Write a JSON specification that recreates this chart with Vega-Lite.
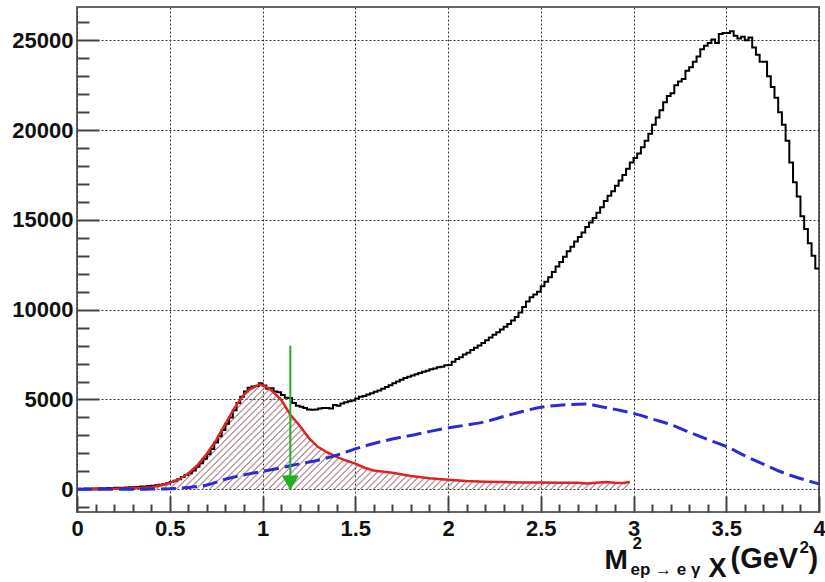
{
  "$schema": "https://vega.github.io/schema/vega-lite/v6.json",
  "width": 742,
  "height": 505,
  "autosize": "none",
  "padding": {"left": 77, "top": 7, "right": 6, "bottom": 70},
  "background": "white",
  "config": {
    "view": {"stroke": "#666", "strokeWidth": 2},
    "axis": {"labelFont": "Liberation Sans", "titleFont": "Liberation Sans", "labelFontWeight": "bold", "titleFontWeight": "bold", "labelColor": "#111", "titleColor": "#111"}
  },
  "datasets": {
    "total": [
      {"m2": 0.00, "count": 30}, {"m2": 0.02, "count": 20}, {"m2": 0.04, "count": 40}, {"m2": 0.06, "count": 30},
      {"m2": 0.08, "count": 50}, {"m2": 0.10, "count": 40}, {"m2": 0.12, "count": 60}, {"m2": 0.14, "count": 50},
      {"m2": 0.16, "count": 70}, {"m2": 0.18, "count": 60}, {"m2": 0.20, "count": 80}, {"m2": 0.22, "count": 90},
      {"m2": 0.24, "count": 80}, {"m2": 0.26, "count": 100}, {"m2": 0.28, "count": 110}, {"m2": 0.30, "count": 120},
      {"m2": 0.32, "count": 130}, {"m2": 0.34, "count": 150}, {"m2": 0.36, "count": 160}, {"m2": 0.38, "count": 180},
      {"m2": 0.40, "count": 200}, {"m2": 0.42, "count": 220}, {"m2": 0.44, "count": 250}, {"m2": 0.46, "count": 280},
      {"m2": 0.48, "count": 330}, {"m2": 0.50, "count": 400}, {"m2": 0.52, "count": 470}, {"m2": 0.54, "count": 560},
      {"m2": 0.56, "count": 680}, {"m2": 0.58, "count": 800}, {"m2": 0.60, "count": 900}, {"m2": 0.62, "count": 1050},
      {"m2": 0.64, "count": 1250}, {"m2": 0.66, "count": 1450}, {"m2": 0.68, "count": 1700}, {"m2": 0.70, "count": 1950},
      {"m2": 0.72, "count": 2250}, {"m2": 0.74, "count": 2600}, {"m2": 0.76, "count": 2950}, {"m2": 0.78, "count": 3300},
      {"m2": 0.80, "count": 3650}, {"m2": 0.82, "count": 4000}, {"m2": 0.84, "count": 4400}, {"m2": 0.86, "count": 4800},
      {"m2": 0.88, "count": 5150}, {"m2": 0.90, "count": 5450}, {"m2": 0.92, "count": 5650}, {"m2": 0.94, "count": 5720},
      {"m2": 0.96, "count": 5750}, {"m2": 0.98, "count": 5900}, {"m2": 1.00, "count": 5780}, {"m2": 1.02, "count": 5600},
      {"m2": 1.04, "count": 5620}, {"m2": 1.06, "count": 5450}, {"m2": 1.08, "count": 5400}, {"m2": 1.10, "count": 5250},
      {"m2": 1.12, "count": 5100}, {"m2": 1.14, "count": 5080}, {"m2": 1.16, "count": 4800}, {"m2": 1.18, "count": 4650},
      {"m2": 1.20, "count": 4600}, {"m2": 1.22, "count": 4520}, {"m2": 1.24, "count": 4450}, {"m2": 1.26, "count": 4430},
      {"m2": 1.28, "count": 4450}, {"m2": 1.30, "count": 4500}, {"m2": 1.32, "count": 4520}, {"m2": 1.34, "count": 4520},
      {"m2": 1.36, "count": 4500}, {"m2": 1.38, "count": 4700}, {"m2": 1.40, "count": 4650}, {"m2": 1.42, "count": 4780},
      {"m2": 1.44, "count": 4850}, {"m2": 1.46, "count": 4900}, {"m2": 1.48, "count": 4950}, {"m2": 1.50, "count": 5050},
      {"m2": 1.52, "count": 5150}, {"m2": 1.54, "count": 5200}, {"m2": 1.56, "count": 5280}, {"m2": 1.58, "count": 5350},
      {"m2": 1.60, "count": 5430}, {"m2": 1.62, "count": 5500}, {"m2": 1.64, "count": 5600}, {"m2": 1.66, "count": 5700},
      {"m2": 1.68, "count": 5800}, {"m2": 1.70, "count": 5900}, {"m2": 1.72, "count": 6000}, {"m2": 1.74, "count": 6100},
      {"m2": 1.76, "count": 6200}, {"m2": 1.78, "count": 6270}, {"m2": 1.80, "count": 6330}, {"m2": 1.82, "count": 6400},
      {"m2": 1.84, "count": 6480}, {"m2": 1.86, "count": 6550}, {"m2": 1.88, "count": 6600}, {"m2": 1.90, "count": 6680},
      {"m2": 1.92, "count": 6720}, {"m2": 1.94, "count": 6800}, {"m2": 1.96, "count": 6830}, {"m2": 1.98, "count": 6900},
      {"m2": 2.00, "count": 6920}, {"m2": 2.02, "count": 7100}, {"m2": 2.04, "count": 7250}, {"m2": 2.06, "count": 7350},
      {"m2": 2.08, "count": 7500}, {"m2": 2.10, "count": 7600}, {"m2": 2.12, "count": 7750}, {"m2": 2.14, "count": 7880},
      {"m2": 2.16, "count": 8000}, {"m2": 2.18, "count": 8150}, {"m2": 2.20, "count": 8300}, {"m2": 2.22, "count": 8450},
      {"m2": 2.24, "count": 8600}, {"m2": 2.26, "count": 8750}, {"m2": 2.28, "count": 8900}, {"m2": 2.30, "count": 9050},
      {"m2": 2.32, "count": 9200}, {"m2": 2.34, "count": 9400}, {"m2": 2.36, "count": 9600}, {"m2": 2.38, "count": 9850},
      {"m2": 2.40, "count": 10150}, {"m2": 2.42, "count": 10450}, {"m2": 2.44, "count": 10700}, {"m2": 2.46, "count": 10850},
      {"m2": 2.48, "count": 11000}, {"m2": 2.50, "count": 11300}, {"m2": 2.52, "count": 11550}, {"m2": 2.54, "count": 11800},
      {"m2": 2.56, "count": 12100}, {"m2": 2.58, "count": 12400}, {"m2": 2.60, "count": 12650}, {"m2": 2.62, "count": 12950},
      {"m2": 2.64, "count": 13250}, {"m2": 2.66, "count": 13500}, {"m2": 2.68, "count": 13800}, {"m2": 2.70, "count": 14050},
      {"m2": 2.72, "count": 14300}, {"m2": 2.74, "count": 14600}, {"m2": 2.76, "count": 14850}, {"m2": 2.78, "count": 15100},
      {"m2": 2.80, "count": 15400}, {"m2": 2.82, "count": 15700}, {"m2": 2.84, "count": 16050}, {"m2": 2.86, "count": 16350},
      {"m2": 2.88, "count": 16600}, {"m2": 2.90, "count": 16900}, {"m2": 2.92, "count": 17200}, {"m2": 2.94, "count": 17500},
      {"m2": 2.96, "count": 17850}, {"m2": 2.98, "count": 18200}, {"m2": 3.00, "count": 18450}, {"m2": 3.02, "count": 18700},
      {"m2": 3.04, "count": 19050}, {"m2": 3.06, "count": 19400}, {"m2": 3.08, "count": 19800}, {"m2": 3.10, "count": 20300},
      {"m2": 3.12, "count": 20700}, {"m2": 3.14, "count": 21100}, {"m2": 3.16, "count": 21550}, {"m2": 3.18, "count": 21900},
      {"m2": 3.20, "count": 22050}, {"m2": 3.22, "count": 22500}, {"m2": 3.24, "count": 22700}, {"m2": 3.26, "count": 22850},
      {"m2": 3.28, "count": 23300}, {"m2": 3.30, "count": 23500}, {"m2": 3.32, "count": 23800}, {"m2": 3.34, "count": 24100},
      {"m2": 3.36, "count": 24500}, {"m2": 3.38, "count": 24700}, {"m2": 3.40, "count": 24850}, {"m2": 3.42, "count": 25050},
      {"m2": 3.44, "count": 24850}, {"m2": 3.46, "count": 25350}, {"m2": 3.48, "count": 25400}, {"m2": 3.50, "count": 25400},
      {"m2": 3.52, "count": 25500}, {"m2": 3.54, "count": 25250}, {"m2": 3.56, "count": 25100}, {"m2": 3.58, "count": 25200},
      {"m2": 3.60, "count": 25000}, {"m2": 3.62, "count": 25150}, {"m2": 3.64, "count": 24600}, {"m2": 3.66, "count": 24200},
      {"m2": 3.68, "count": 23800}, {"m2": 3.70, "count": 23800}, {"m2": 3.72, "count": 23000}, {"m2": 3.74, "count": 22400},
      {"m2": 3.76, "count": 21800}, {"m2": 3.78, "count": 21000}, {"m2": 3.80, "count": 20300}, {"m2": 3.82, "count": 19400},
      {"m2": 3.84, "count": 18200}, {"m2": 3.86, "count": 17100}, {"m2": 3.88, "count": 16300}, {"m2": 3.90, "count": 15200},
      {"m2": 3.92, "count": 14500}, {"m2": 3.94, "count": 13700}, {"m2": 3.96, "count": 13000}, {"m2": 3.98, "count": 12300},
      {"m2": 4.00, "count": 12300}
    ],
    "signal": [
      {"m2": 0.00, "count": 0}, {"m2": 0.10, "count": 10}, {"m2": 0.20, "count": 30}, {"m2": 0.30, "count": 60},
      {"m2": 0.35, "count": 80}, {"m2": 0.40, "count": 110}, {"m2": 0.45, "count": 210}, {"m2": 0.50, "count": 360},
      {"m2": 0.55, "count": 560}, {"m2": 0.60, "count": 880}, {"m2": 0.65, "count": 1350}, {"m2": 0.70, "count": 1980},
      {"m2": 0.75, "count": 2740}, {"m2": 0.80, "count": 3650}, {"m2": 0.85, "count": 4550}, {"m2": 0.90, "count": 5280},
      {"m2": 0.93, "count": 5550}, {"m2": 0.96, "count": 5720}, {"m2": 0.98, "count": 5830}, {"m2": 1.00, "count": 5800},
      {"m2": 1.03, "count": 5650}, {"m2": 1.06, "count": 5400}, {"m2": 1.10, "count": 5000}, {"m2": 1.15, "count": 4150},
      {"m2": 1.20, "count": 3550}, {"m2": 1.25, "count": 2850}, {"m2": 1.30, "count": 2350}, {"m2": 1.35, "count": 2050},
      {"m2": 1.40, "count": 1800}, {"m2": 1.45, "count": 1600}, {"m2": 1.50, "count": 1430}, {"m2": 1.55, "count": 1200},
      {"m2": 1.60, "count": 1050}, {"m2": 1.70, "count": 920}, {"m2": 1.80, "count": 740}, {"m2": 1.90, "count": 620},
      {"m2": 2.00, "count": 530}, {"m2": 2.10, "count": 460}, {"m2": 2.20, "count": 420}, {"m2": 2.30, "count": 400},
      {"m2": 2.40, "count": 380}, {"m2": 2.50, "count": 380}, {"m2": 2.60, "count": 370}, {"m2": 2.70, "count": 360},
      {"m2": 2.75, "count": 320}, {"m2": 2.80, "count": 370}, {"m2": 2.85, "count": 400}, {"m2": 2.90, "count": 360},
      {"m2": 2.95, "count": 350}, {"m2": 2.98, "count": 420}
    ],
    "background": [
      {"m2": 0.0, "count": 0}, {"m2": 0.1, "count": 0}, {"m2": 0.2, "count": 0}, {"m2": 0.3, "count": 0},
      {"m2": 0.4, "count": 10}, {"m2": 0.5, "count": 30}, {"m2": 0.6, "count": 100}, {"m2": 0.7, "count": 240},
      {"m2": 0.8, "count": 560}, {"m2": 0.9, "count": 800}, {"m2": 1.0, "count": 1000}, {"m2": 1.1, "count": 1200},
      {"m2": 1.2, "count": 1420}, {"m2": 1.3, "count": 1620}, {"m2": 1.4, "count": 1900}, {"m2": 1.5, "count": 2250},
      {"m2": 1.6, "count": 2550}, {"m2": 1.7, "count": 2800}, {"m2": 1.8, "count": 3000}, {"m2": 1.9, "count": 3220},
      {"m2": 2.0, "count": 3420}, {"m2": 2.1, "count": 3580}, {"m2": 2.2, "count": 3760}, {"m2": 2.3, "count": 4050},
      {"m2": 2.4, "count": 4330}, {"m2": 2.5, "count": 4570}, {"m2": 2.6, "count": 4680}, {"m2": 2.7, "count": 4740},
      {"m2": 2.75, "count": 4750}, {"m2": 2.8, "count": 4650}, {"m2": 2.9, "count": 4450}, {"m2": 3.0, "count": 4230},
      {"m2": 3.1, "count": 3920}, {"m2": 3.2, "count": 3600}, {"m2": 3.3, "count": 3180}, {"m2": 3.4, "count": 2770},
      {"m2": 3.5, "count": 2380}, {"m2": 3.6, "count": 1870}, {"m2": 3.7, "count": 1400}, {"m2": 3.8, "count": 950},
      {"m2": 3.9, "count": 600}, {"m2": 4.0, "count": 300}
    ],
    "cut": [
      {"m2": 1.15, "top": 8000, "bottom": 0}
    ]
  },
  "resolve": {"axis": {"x": "independent", "y": "independent"}},
  "layer": [
    {
      "data": {"name": "signal"},
      "mark": {"type": "area", "interpolate": "linear",
        "fill": {"gradient": "linear", "x1": 0, "y1": 0, "x2": 1.1482, "y2": 0.2175, "stops": [
          {"offset": 0.00, "color": "#dba7ae"}, {"offset": 0.002, "color": "transparent"}, {"offset": 0.008, "color": "transparent"},
          {"offset": 0.01, "color": "#dba7ae"}, {"offset": 0.012, "color": "transparent"}, {"offset": 0.018, "color": "transparent"},
          {"offset": 0.02, "color": "#dba7ae"}, {"offset": 0.022, "color": "transparent"}, {"offset": 0.028, "color": "transparent"},
          {"offset": 0.03, "color": "#dba7ae"}, {"offset": 0.032, "color": "transparent"}, {"offset": 0.038, "color": "transparent"},
          {"offset": 0.04, "color": "#dba7ae"}, {"offset": 0.042, "color": "transparent"}, {"offset": 0.048, "color": "transparent"},
          {"offset": 0.05, "color": "#dba7ae"}, {"offset": 0.052, "color": "transparent"}, {"offset": 0.058, "color": "transparent"},
          {"offset": 0.06, "color": "#dba7ae"}, {"offset": 0.062, "color": "transparent"}, {"offset": 0.068, "color": "transparent"},
          {"offset": 0.07, "color": "#dba7ae"}, {"offset": 0.072, "color": "transparent"}, {"offset": 0.078, "color": "transparent"},
          {"offset": 0.08, "color": "#dba7ae"}, {"offset": 0.082, "color": "transparent"}, {"offset": 0.088, "color": "transparent"},
          {"offset": 0.09, "color": "#dba7ae"}, {"offset": 0.092, "color": "transparent"}, {"offset": 0.098, "color": "transparent"},
          {"offset": 0.10, "color": "#dba7ae"}, {"offset": 0.102, "color": "transparent"}, {"offset": 0.108, "color": "transparent"},
          {"offset": 0.11, "color": "#dba7ae"}, {"offset": 0.112, "color": "transparent"}, {"offset": 0.118, "color": "transparent"},
          {"offset": 0.12, "color": "#dba7ae"}, {"offset": 0.122, "color": "transparent"}, {"offset": 0.128, "color": "transparent"},
          {"offset": 0.13, "color": "#dba7ae"}, {"offset": 0.132, "color": "transparent"}, {"offset": 0.138, "color": "transparent"},
          {"offset": 0.14, "color": "#dba7ae"}, {"offset": 0.142, "color": "transparent"}, {"offset": 0.148, "color": "transparent"},
          {"offset": 0.15, "color": "#dba7ae"}, {"offset": 0.152, "color": "transparent"}, {"offset": 0.158, "color": "transparent"},
          {"offset": 0.16, "color": "#dba7ae"}, {"offset": 0.162, "color": "transparent"}, {"offset": 0.168, "color": "transparent"},
          {"offset": 0.17, "color": "#dba7ae"}, {"offset": 0.172, "color": "transparent"}, {"offset": 0.178, "color": "transparent"},
          {"offset": 0.18, "color": "#dba7ae"}, {"offset": 0.182, "color": "transparent"}, {"offset": 0.188, "color": "transparent"},
          {"offset": 0.19, "color": "#dba7ae"}, {"offset": 0.192, "color": "transparent"}, {"offset": 0.198, "color": "transparent"},
          {"offset": 0.20, "color": "#dba7ae"}, {"offset": 0.202, "color": "transparent"}, {"offset": 0.208, "color": "transparent"},
          {"offset": 0.21, "color": "#dba7ae"}, {"offset": 0.212, "color": "transparent"}, {"offset": 0.218, "color": "transparent"},
          {"offset": 0.22, "color": "#dba7ae"}, {"offset": 0.222, "color": "transparent"}, {"offset": 0.228, "color": "transparent"},
          {"offset": 0.23, "color": "#dba7ae"}, {"offset": 0.232, "color": "transparent"}, {"offset": 0.238, "color": "transparent"},
          {"offset": 0.24, "color": "#dba7ae"}, {"offset": 0.242, "color": "transparent"}, {"offset": 0.248, "color": "transparent"},
          {"offset": 0.25, "color": "#dba7ae"}, {"offset": 0.252, "color": "transparent"}, {"offset": 0.258, "color": "transparent"},
          {"offset": 0.26, "color": "#dba7ae"}, {"offset": 0.262, "color": "transparent"}, {"offset": 0.268, "color": "transparent"},
          {"offset": 0.27, "color": "#dba7ae"}, {"offset": 0.272, "color": "transparent"}, {"offset": 0.278, "color": "transparent"},
          {"offset": 0.28, "color": "#dba7ae"}, {"offset": 0.282, "color": "transparent"}, {"offset": 0.288, "color": "transparent"},
          {"offset": 0.29, "color": "#dba7ae"}, {"offset": 0.292, "color": "transparent"}, {"offset": 0.298, "color": "transparent"},
          {"offset": 0.30, "color": "#dba7ae"}, {"offset": 0.302, "color": "transparent"}, {"offset": 0.308, "color": "transparent"},
          {"offset": 0.31, "color": "#dba7ae"}, {"offset": 0.312, "color": "transparent"}, {"offset": 0.318, "color": "transparent"},
          {"offset": 0.32, "color": "#dba7ae"}, {"offset": 0.322, "color": "transparent"}, {"offset": 0.328, "color": "transparent"},
          {"offset": 0.33, "color": "#dba7ae"}, {"offset": 0.332, "color": "transparent"}, {"offset": 0.338, "color": "transparent"},
          {"offset": 0.34, "color": "#dba7ae"}, {"offset": 0.342, "color": "transparent"}, {"offset": 0.348, "color": "transparent"},
          {"offset": 0.35, "color": "#dba7ae"}, {"offset": 0.352, "color": "transparent"}, {"offset": 0.358, "color": "transparent"},
          {"offset": 0.36, "color": "#dba7ae"}, {"offset": 0.362, "color": "transparent"}, {"offset": 0.368, "color": "transparent"},
          {"offset": 0.37, "color": "#dba7ae"}, {"offset": 0.372, "color": "transparent"}, {"offset": 0.378, "color": "transparent"},
          {"offset": 0.38, "color": "#dba7ae"}, {"offset": 0.382, "color": "transparent"}, {"offset": 0.388, "color": "transparent"},
          {"offset": 0.39, "color": "#dba7ae"}, {"offset": 0.392, "color": "transparent"}, {"offset": 0.398, "color": "transparent"},
          {"offset": 0.40, "color": "#dba7ae"}, {"offset": 0.402, "color": "transparent"}, {"offset": 0.408, "color": "transparent"},
          {"offset": 0.41, "color": "#dba7ae"}, {"offset": 0.412, "color": "transparent"}, {"offset": 0.418, "color": "transparent"},
          {"offset": 0.42, "color": "#dba7ae"}, {"offset": 0.422, "color": "transparent"}, {"offset": 0.428, "color": "transparent"},
          {"offset": 0.43, "color": "#dba7ae"}, {"offset": 0.432, "color": "transparent"}, {"offset": 0.438, "color": "transparent"},
          {"offset": 0.44, "color": "#dba7ae"}, {"offset": 0.442, "color": "transparent"}, {"offset": 0.448, "color": "transparent"},
          {"offset": 0.45, "color": "#dba7ae"}, {"offset": 0.452, "color": "transparent"}, {"offset": 0.458, "color": "transparent"},
          {"offset": 0.46, "color": "#dba7ae"}, {"offset": 0.462, "color": "transparent"}, {"offset": 0.468, "color": "transparent"},
          {"offset": 0.47, "color": "#dba7ae"}, {"offset": 0.472, "color": "transparent"}, {"offset": 0.478, "color": "transparent"},
          {"offset": 0.48, "color": "#dba7ae"}, {"offset": 0.482, "color": "transparent"}, {"offset": 0.488, "color": "transparent"},
          {"offset": 0.49, "color": "#dba7ae"}, {"offset": 0.492, "color": "transparent"}, {"offset": 0.498, "color": "transparent"},
          {"offset": 0.50, "color": "#dba7ae"}, {"offset": 0.502, "color": "transparent"}, {"offset": 0.508, "color": "transparent"},
          {"offset": 0.51, "color": "#dba7ae"}, {"offset": 0.512, "color": "transparent"}, {"offset": 0.518, "color": "transparent"},
          {"offset": 0.52, "color": "#dba7ae"}, {"offset": 0.522, "color": "transparent"}, {"offset": 0.528, "color": "transparent"},
          {"offset": 0.53, "color": "#dba7ae"}, {"offset": 0.532, "color": "transparent"}, {"offset": 0.538, "color": "transparent"},
          {"offset": 0.54, "color": "#dba7ae"}, {"offset": 0.542, "color": "transparent"}, {"offset": 0.548, "color": "transparent"},
          {"offset": 0.55, "color": "#dba7ae"}, {"offset": 0.552, "color": "transparent"}, {"offset": 0.558, "color": "transparent"},
          {"offset": 0.56, "color": "#dba7ae"}, {"offset": 0.562, "color": "transparent"}, {"offset": 0.568, "color": "transparent"},
          {"offset": 0.57, "color": "#dba7ae"}, {"offset": 0.572, "color": "transparent"}, {"offset": 0.578, "color": "transparent"},
          {"offset": 0.58, "color": "#dba7ae"}, {"offset": 0.582, "color": "transparent"}, {"offset": 0.588, "color": "transparent"},
          {"offset": 0.59, "color": "#dba7ae"}, {"offset": 0.592, "color": "transparent"}, {"offset": 0.598, "color": "transparent"},
          {"offset": 0.60, "color": "#dba7ae"}, {"offset": 0.602, "color": "transparent"}, {"offset": 0.608, "color": "transparent"},
          {"offset": 0.61, "color": "#dba7ae"}, {"offset": 0.612, "color": "transparent"}, {"offset": 0.618, "color": "transparent"},
          {"offset": 0.62, "color": "#dba7ae"}, {"offset": 0.622, "color": "transparent"}, {"offset": 0.628, "color": "transparent"},
          {"offset": 0.63, "color": "#dba7ae"}, {"offset": 0.632, "color": "transparent"}, {"offset": 0.638, "color": "transparent"},
          {"offset": 0.64, "color": "#dba7ae"}, {"offset": 0.642, "color": "transparent"}, {"offset": 0.648, "color": "transparent"},
          {"offset": 0.65, "color": "#dba7ae"}, {"offset": 0.652, "color": "transparent"}, {"offset": 0.658, "color": "transparent"},
          {"offset": 0.66, "color": "#dba7ae"}, {"offset": 0.662, "color": "transparent"}, {"offset": 0.668, "color": "transparent"},
          {"offset": 0.67, "color": "#dba7ae"}, {"offset": 0.672, "color": "transparent"}, {"offset": 0.678, "color": "transparent"},
          {"offset": 0.68, "color": "#dba7ae"}, {"offset": 0.682, "color": "transparent"}, {"offset": 0.688, "color": "transparent"},
          {"offset": 0.69, "color": "#dba7ae"}, {"offset": 0.692, "color": "transparent"}, {"offset": 0.698, "color": "transparent"},
          {"offset": 0.70, "color": "#dba7ae"}, {"offset": 0.702, "color": "transparent"}, {"offset": 0.708, "color": "transparent"},
          {"offset": 0.71, "color": "#dba7ae"}, {"offset": 0.712, "color": "transparent"}, {"offset": 0.718, "color": "transparent"},
          {"offset": 0.72, "color": "#dba7ae"}, {"offset": 0.722, "color": "transparent"}, {"offset": 0.728, "color": "transparent"},
          {"offset": 0.73, "color": "#dba7ae"}, {"offset": 0.732, "color": "transparent"}, {"offset": 0.738, "color": "transparent"},
          {"offset": 0.74, "color": "#dba7ae"}, {"offset": 0.742, "color": "transparent"}, {"offset": 0.748, "color": "transparent"},
          {"offset": 0.75, "color": "#dba7ae"}, {"offset": 0.752, "color": "transparent"}, {"offset": 0.758, "color": "transparent"},
          {"offset": 0.76, "color": "#dba7ae"}, {"offset": 0.762, "color": "transparent"}, {"offset": 0.768, "color": "transparent"},
          {"offset": 0.77, "color": "#dba7ae"}, {"offset": 0.772, "color": "transparent"}, {"offset": 0.778, "color": "transparent"},
          {"offset": 0.78, "color": "#dba7ae"}, {"offset": 0.782, "color": "transparent"}, {"offset": 0.788, "color": "transparent"},
          {"offset": 0.79, "color": "#dba7ae"}, {"offset": 0.792, "color": "transparent"}, {"offset": 0.798, "color": "transparent"},
          {"offset": 0.80, "color": "#dba7ae"}, {"offset": 0.802, "color": "transparent"}, {"offset": 0.808, "color": "transparent"},
          {"offset": 0.81, "color": "#dba7ae"}, {"offset": 0.812, "color": "transparent"}, {"offset": 0.818, "color": "transparent"},
          {"offset": 0.82, "color": "#dba7ae"}, {"offset": 0.822, "color": "transparent"}, {"offset": 0.828, "color": "transparent"},
          {"offset": 0.83, "color": "#dba7ae"}, {"offset": 0.832, "color": "transparent"}, {"offset": 0.838, "color": "transparent"},
          {"offset": 0.84, "color": "#dba7ae"}, {"offset": 0.842, "color": "transparent"}, {"offset": 0.848, "color": "transparent"},
          {"offset": 0.85, "color": "#dba7ae"}, {"offset": 0.852, "color": "transparent"}, {"offset": 0.858, "color": "transparent"},
          {"offset": 0.86, "color": "#dba7ae"}, {"offset": 0.862, "color": "transparent"}, {"offset": 0.868, "color": "transparent"},
          {"offset": 0.87, "color": "#dba7ae"}, {"offset": 0.872, "color": "transparent"}, {"offset": 0.878, "color": "transparent"},
          {"offset": 0.88, "color": "#dba7ae"}, {"offset": 0.882, "color": "transparent"}, {"offset": 0.888, "color": "transparent"},
          {"offset": 0.89, "color": "#dba7ae"}, {"offset": 0.892, "color": "transparent"}, {"offset": 0.898, "color": "transparent"},
          {"offset": 0.90, "color": "#dba7ae"}, {"offset": 0.902, "color": "transparent"}, {"offset": 0.908, "color": "transparent"},
          {"offset": 0.91, "color": "#dba7ae"}, {"offset": 0.912, "color": "transparent"}, {"offset": 0.918, "color": "transparent"},
          {"offset": 0.92, "color": "#dba7ae"}, {"offset": 0.922, "color": "transparent"}, {"offset": 0.928, "color": "transparent"},
          {"offset": 0.93, "color": "#dba7ae"}, {"offset": 0.932, "color": "transparent"}, {"offset": 0.938, "color": "transparent"},
          {"offset": 0.94, "color": "#dba7ae"}, {"offset": 0.942, "color": "transparent"}, {"offset": 0.948, "color": "transparent"},
          {"offset": 0.95, "color": "#dba7ae"}, {"offset": 0.952, "color": "transparent"}, {"offset": 0.958, "color": "transparent"},
          {"offset": 0.96, "color": "#dba7ae"}, {"offset": 0.962, "color": "transparent"}, {"offset": 0.968, "color": "transparent"},
          {"offset": 0.97, "color": "#dba7ae"}, {"offset": 0.972, "color": "transparent"}, {"offset": 0.978, "color": "transparent"},
          {"offset": 0.98, "color": "#dba7ae"}, {"offset": 0.982, "color": "transparent"}, {"offset": 0.988, "color": "transparent"},
          {"offset": 0.99, "color": "#dba7ae"}, {"offset": 0.992, "color": "transparent"}, {"offset": 0.998, "color": "transparent"},
          {"offset": 1.00, "color": "#dba7ae"}
        ]}},
      "encoding": {
        "x": {"field": "m2", "type": "quantitative", "scale": {"domain": [0, 4], "nice": false, "zero": false},
          "axis": {"orient": "top", "offset": -505, "values": [0,0.1,0.2,0.3,0.4,0.5,0.6,0.7,0.8,0.9,1,1.1,1.2,1.3,1.4,1.5,1.6,1.7,1.8,1.9,2,2.1,2.2,2.3,2.4,2.5,2.6,2.7,2.8,2.9,3,3.1,3.2,3.3,3.4,3.5,3.6,3.7,3.8,3.9,4],
            "labels": false, "grid": false, "domain": false, "ticks": true,
            "tickSize": {"condition": {"test": "abs(datum.value * 2 - round(datum.value * 2)) < 0.001", "value": 16}, "value": 8},
            "tickColor": "#444", "tickWidth": 2, "title": null}},
        "y": {"field": "count", "type": "quantitative", "scale": {"domain": [-1264, 26854], "nice": false, "zero": false},
          "axis": {"orient": "right", "offset": -742, "values": [-1000,0,1000,2000,3000,4000,5000,6000,7000,8000,9000,10000,11000,12000,13000,14000,15000,16000,17000,18000,19000,20000,21000,22000,23000,24000,25000,26000],
            "labels": false, "grid": false, "domain": false, "ticks": true,
            "tickSize": {"condition": {"test": "datum.value % 5000 === 0", "value": 22}, "value": 12},
            "tickColor": "#444", "tickWidth": 2, "title": null}}
      }
    },
    {
      "data": {"name": "total"},
      "mark": {"type": "line", "interpolate": "step-after", "stroke": "#000", "strokeWidth": 2},
      "encoding": {
        "x": {"field": "m2", "type": "quantitative", "scale": {"domain": [0, 4], "nice": false, "zero": false},
          "axis": {"orient": "bottom", "values": [0,0.5,1,1.5,2,2.5,3,3.5,4], "format": "~g",
            "grid": true, "gridDash": [2, 2], "gridColor": "#333", "gridWidth": 1, "domain": false,
            "ticks": false, "tickSize": 0, "labelPadding": 6, "labelFontSize": 22,
            "labelFlush": false, "labelOverlap": false, "labelBound": false, "title": null}},
        "y": {"field": "count", "type": "quantitative", "scale": {"domain": [-1264, 26854], "nice": false, "zero": false},
          "axis": {"orient": "left", "values": [0,5000,10000,15000,20000,25000], "format": "d",
            "grid": true, "gridDash": [2, 2], "gridColor": "#333", "gridWidth": 1, "domain": false,
            "ticks": false, "tickSize": 0, "labelPadding": 4, "labelFontSize": 22,
            "labelFlush": false, "labelOverlap": false, "labelBound": false, "title": null}}
      }
    },
    {
      "data": {"name": "signal"},
      "mark": {"type": "line", "interpolate": "linear", "stroke": "#e02222", "strokeWidth": 2.5},
      "encoding": {
        "x": {"field": "m2", "type": "quantitative", "scale": {"domain": [0, 4], "nice": false, "zero": false},
          "axis": {"orient": "bottom", "labels": false, "ticks": false, "grid": false, "domain": false,
            "title": "M", "titleX": 527, "titleY": 56, "titleAlign": "left", "titleBaseline": "alphabetic", "titleAngle": 0, "titleFontSize": 28}},
        "y": {"field": "count", "type": "quantitative", "scale": {"domain": [-1264, 26854], "nice": false, "zero": false},
          "axis": {"orient": "left", "labels": false, "ticks": false, "grid": false, "domain": false,
            "title": "2", "titleX": 555, "titleY": 541, "titleAlign": "left", "titleBaseline": "alphabetic", "titleAngle": 0, "titleFontSize": 17}}
      }
    },
    {
      "data": {"name": "background"},
      "mark": {"type": "line", "interpolate": "monotone", "stroke": "#2b2bd6", "strokeWidth": 3, "strokeDash": [15, 6]},
      "encoding": {
        "x": {"field": "m2", "type": "quantitative", "scale": {"domain": [0, 4], "nice": false, "zero": false},
          "axis": {"orient": "bottom", "labels": false, "ticks": false, "grid": false, "domain": false,
            "title": "ep → e γ", "titleX": 553, "titleY": 62, "titleAlign": "left", "titleBaseline": "alphabetic", "titleAngle": 0, "titleFontSize": 17}},
        "y": {"field": "count", "type": "quantitative", "scale": {"domain": [-1264, 26854], "nice": false, "zero": false},
          "axis": {"orient": "left", "labels": false, "ticks": false, "grid": false, "domain": false,
            "title": "X", "titleX": 631, "titleY": 569, "titleAlign": "left", "titleBaseline": "alphabetic", "titleAngle": 0, "titleFontSize": 27}}
      }
    },
    {
      "data": {"name": "cut"},
      "mark": {"type": "rule", "stroke": "#22b022", "strokeWidth": 2},
      "encoding": {
        "x": {"field": "m2", "type": "quantitative", "scale": {"domain": [0, 4], "nice": false, "zero": false},
          "axis": {"orient": "bottom", "labels": false, "ticks": false, "grid": false, "domain": false,
            "title": "(GeV", "titleX": 653, "titleY": 55, "titleAlign": "left", "titleBaseline": "alphabetic", "titleAngle": 0, "titleFontSize": 29}},
        "y": {"field": "top", "type": "quantitative", "scale": {"domain": [-1264, 26854], "nice": false, "zero": false},
          "axis": {"orient": "left", "labels": false, "ticks": false, "grid": false, "domain": false,
            "title": "2", "titleX": 722, "titleY": 545, "titleAlign": "left", "titleBaseline": "alphabetic", "titleAngle": 0, "titleFontSize": 17}},
        "y2": {"field": "bottom"}
      }
    },
    {
      "data": {"name": "cut"},
      "mark": {"type": "point", "shape": "M-1,-1.732L1,-1.732L0,0Z", "filled": true, "fill": "#22b022", "stroke": "#22b022", "strokeWidth": 1, "opacity": 1, "size": 240},
      "encoding": {
        "x": {"field": "m2", "type": "quantitative", "scale": {"domain": [0, 4], "nice": false, "zero": false},
          "axis": {"orient": "bottom", "labels": false, "ticks": false, "grid": false, "domain": false,
            "title": ")", "titleX": 731, "titleY": 55, "titleAlign": "left", "titleBaseline": "alphabetic", "titleAngle": 0, "titleFontSize": 29}},
        "y": {"field": "bottom", "type": "quantitative", "scale": {"domain": [-1264, 26854], "nice": false, "zero": false}, "axis": null}
      }
    }
  ]
}
